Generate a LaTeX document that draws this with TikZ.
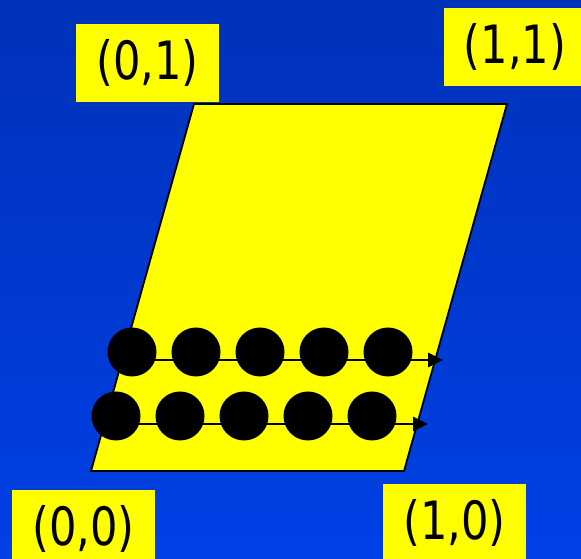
\documentclass[tikz,border=0pt]{standalone}
\usepackage{fontspec}
\setmainfont{DejaVu Sans Condensed}
\usetikzlibrary{arrows.meta}
\definecolor{bgtop}{RGB}{0,50,185}
\definecolor{bgbot}{RGB}{0,64,230}
\definecolor{sheet}{RGB}{255,255,0}
\newcommand{\tallcoord}[1]{\scalebox{1}[1.1]{#1}}

\begin{document}
\begin{tikzpicture}[x=1pt,y=1pt,
  lbl/.style={fill=sheet,minimum width=143pt,minimum height=78pt,inner sep=0pt,
    font=\fontsize{48}{50}\selectfont},
  ball/.style={circle,fill=black,minimum size=49pt,inner sep=0pt},
  flow/.style={line width=2.6pt,-{Triangle[length=15pt,width=14pt]}}]
  \clip (0,0) rectangle (581,559);
  \shade[top color=bgtop,bottom color=bgbot] (0,0) rectangle (581,559);
  % the unit square, sheared
  \draw[fill=sheet,line width=1.8pt,line join=miter]
    (91,88) -- (404,88) -- (507,455) -- (194,455) -- cycle;
  \node[lbl] (p01) at (147.5,496) {\tallcoord{(0,1)}};
  \node[lbl] (p11) at (515,512) {\tallcoord{(1,1)}};
  \node[lbl] (p00) at (83.5,30) {\tallcoord{(0,0)}};
  \node[lbl] (p10) at (454.5,36) {\tallcoord{(1,0)}};
  % two rows of points moving right
  \foreach \r/\y/\x/\e in {1/207/132/443, 2/143/116/428} {
    \coordinate (s\r) at (\x,\y-8);
    \coordinate (e\r) at (\e,\y-8);
    \draw[flow] (s\r) -- (e\r);
    \foreach \i in {1,...,5}
      \node[ball] (b\r\i) at ({\x+64*(\i-1)},\y) {};
  }
\end{tikzpicture}
\end{document}
